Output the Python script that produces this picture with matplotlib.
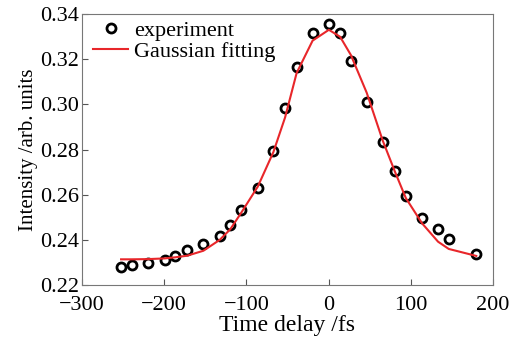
import numpy as np
import matplotlib.pyplot as plt

plt.rcParams['font.family'] = ['Liberation Serif', 'DejaVu Serif']
plt.rcParams['font.size'] = 15

# experiment data
t_exp = [-252.5, -239.6, -219.4, -199.6, -186.3, -172.1, -152.3, -132.5, -119.6,
         -106.3, -86.1, -67.1, -52.9, -38.8, -19.4, 0.4, 14.1, 27.1, 46.5, 65.9,
         80.8, 94.1, 113.9, 133.3, 146.3, 179.8]
i_exp = [0.2282, 0.2291, 0.2297, 0.2310, 0.2329, 0.2354, 0.2380, 0.2419, 0.2467,
         0.2531, 0.2630, 0.2794, 0.2984, 0.3166, 0.3317, 0.3356, 0.3314, 0.3193,
         0.3012, 0.2833, 0.2706, 0.2595, 0.2499, 0.2448, 0.2405, 0.2336]
# gaussian fit evaluated at the same delays
i_fit = [0.2314, 0.2314, 0.2315, 0.2318, 0.2323, 0.2330, 0.2352, 0.2400, 0.2447,
         0.2520, 0.2636, 0.2789, 0.2942, 0.3139, 0.3282, 0.3330, 0.3299, 0.3219,
         0.3051, 0.2840, 0.2702, 0.2585, 0.2473, 0.2392, 0.2360, 0.2329]

fig = plt.figure(figsize=(5.26, 3.41), dpi=100)
ax = fig.add_axes([0.156, 0.164, 0.781, 0.795])
ax.plot(t_exp, i_exp, 'o', mfc='none', mec='k', mew=2, ms=6.5, label='experiment')
ax.plot(t_exp, i_fit, '-', color='#e8262a', lw=1.5, label='Gaussian fitting')
ax.set_xlim(-300, 200)
ax.set_ylim(0.22, 0.34)
ax.set_xticks([-300, -200, -100, 0, 100, 200])
ax.set_xticklabels(['\u2212300', '\u2212200', '\u2212100', '0', '100', '200'])
ax.set_yticks(np.arange(0.22, 0.345, 0.02))
ax.set_yticklabels(['%.2f' % v for v in np.arange(0.22, 0.345, 0.02)])
ax.tick_params(direction='in', length=4, color='#555555', labelsize=16)
ax.tick_params(axis='x', pad=8)
ax.tick_params(axis='y', pad=2)
for s in ax.spines.values():
    s.set_color('#777777')
ax.set_xlabel('Time delay /fs', fontsize=17, labelpad=0)
ax.set_ylabel('Intensity /arb. units', fontsize=15, labelpad=2)
ax.legend(loc='upper left', frameon=False, fontsize=16, handlelength=1.6,
          handletextpad=0.25, borderaxespad=0.0, labelspacing=0.0,
          borderpad=0.3, bbox_to_anchor=(0.01, 1.0))
fig.savefig('out.png')
